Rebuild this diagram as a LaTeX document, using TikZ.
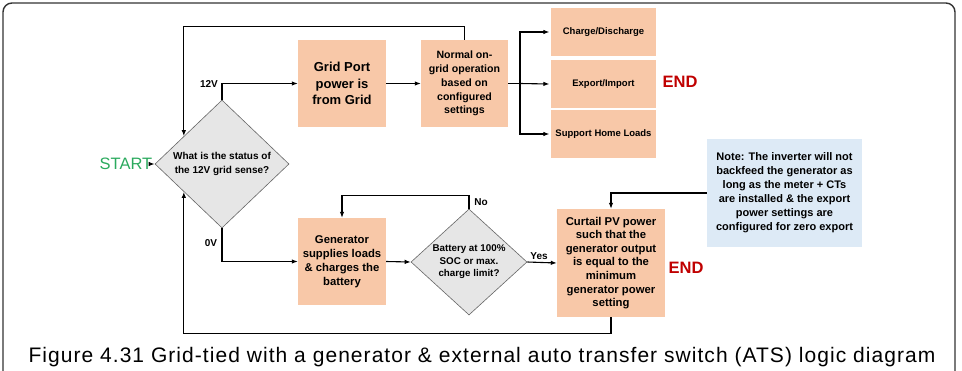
\documentclass[tikz,border=0pt]{standalone}
\usepackage{fontspec}
\setmainfont{Liberation Sans}
\newfontfamily\capfont[LetterSpace=5]{Liberation Sans}
\usetikzlibrary{arrows.meta,shapes.geometric,calc}
\definecolor{peach}{HTML}{F8C8A8}
\definecolor{dgray}{HTML}{E6E6E6}
\definecolor{lblue}{HTML}{DDEAF6}
\definecolor{startgreen}{HTML}{2BAA5E}
\definecolor{endred}{HTML}{C00000}
\tikzset{
  pbox/.style={fill=peach, draw=none, align=center, inner sep=1pt, font=\bfseries},
  stackbox/.style={fill=peach, draw=white, line width=1.2pt, minimum width=107pt, minimum height=50pt, font=\bfseries\fontsize{9.5}{11}\selectfont},
  dshape/.style={diamond, draw=gray!80!black, line width=0.6pt, fill=dgray, inner sep=0pt},
  arr/.style={-{Latex[length=6pt,width=4.5pt]}, line width=1.1pt},
  ln/.style={line width=1.1pt},
  lab/.style={font=\bfseries\fontsize{10}{11}\selectfont, inner sep=0pt},
}
\begin{document}
\begin{tikzpicture}[x=1pt,y=-1pt]
\useasboundingbox (0,0) rectangle (962,370);
\fill[white] (0,0) rectangle (962,370);
\begin{scope}
\clip (0,0) rectangle (962,370);
\draw[line width=1.4pt, draw=black!80, rounded corners=9pt] (3,390) -- (3,3) -- (955,3) -- (955,390);
\end{scope}

% diamonds
\node[dshape, minimum width=134pt, minimum height=128pt] (d1) at (222,164) {};
\node[align=center, font=\bfseries\fontsize{10}{14}\selectfont, inner sep=0pt] (d1t) at (222,164) {What is the status of\\the 12V grid sense?};
\node[dshape, minimum width=116pt, minimum height=106pt] (d2) at (469,262) {};
\node[align=center, font=\bfseries\fontsize{9.8}{12.5}\selectfont, inner sep=0pt] (d2t) at (469,262) {Battery at 100\%\\SOC or max.\\charge limit?};

% boxes
\node[pbox, minimum width=88pt, minimum height=87pt, font=\bfseries\fontsize{13}{16.5}\selectfont] (grid) at (342,83.5) {Grid Port\\power is\\from Grid};
\node[pbox, minimum width=87pt, minimum height=87pt, font=\bfseries\fontsize{10.6}{13.8}\selectfont] (normal) at (464.5,83.5) {Normal on-\\grid operation\\based on\\configured\\settings};
\node[stackbox] (charge) at (603.5,32) {Charge/Discharge};
\node[stackbox] (export) at (603.5,84) {Export/Import};
\node[stackbox] (support) at (603.5,134) {Support Home Loads};
\node[pbox, minimum width=88pt, minimum height=87pt, font=\bfseries\fontsize{11.3}{14}\selectfont] (gen) at (342,261.5) {Generator\\supplies loads\\\& charges the\\battery};
\node[pbox, minimum width=108pt, minimum height=108pt, font=\bfseries\fontsize{11.3}{13.6}\selectfont] (curt) at (611,263) {Curtail PV power\\such that the\\generator output\\is equal to the\\minimum\\generator power\\setting};
\node[fill=lblue, align=center, minimum width=155pt, minimum height=108pt, inner sep=1pt, font=\bfseries\fontsize{11}{14}\selectfont] (note) at (784.5,193) {Note: The inverter will not\\backfeed the generator as\\long as the meter + CTs\\are installed \& the export\\power settings are\\configured for zero export};

% START / END
\node[text=startgreen, font=\fontsize{16.5}{18}\selectfont, inner sep=0pt] (start) at (126,164) {START};
\node[text=endred, font=\bfseries\fontsize{16.5}{18}\selectfont, inner sep=0pt] (end1) at (680,82) {END};
\node[text=endred, font=\bfseries\fontsize{16.5}{18}\selectfont, inner sep=0pt] (end2) at (686,268) {END};

% helper coordinates
\coordinate (d1ul) at ($(d1.west)!0.433!(d1.north)$);
\coordinate (d1ll) at ($(d1.west)!0.433!(d1.south)$);
\coordinate (split) at (520,83.5);

% connectors
\draw[arr] (start.east) -- (d1.west);
\draw[arr] (d1.north) |- (grid.west);
\draw[arr] (grid.east) -- (normal.west);
\draw[ln] (normal.east) -- (split);
\draw[arr] (split) |- (charge.west);
\draw[arr] (split) -- (export.west);
\draw[arr] (split) |- (support.west);
\draw[arr] (normal.north) -- ++(0,-13) -| (d1ul);
\draw[arr] (d1.south) |- (gen.west);
\draw[arr] (gen.east) -- (d2.west);
\draw[arr] (d2.north) -- ++(0,-13) -| (gen.north);
\draw[arr] (d2.east) -- (curt.west);
\draw[arr] (note.west) -| (curt.north);
\draw[arr] (curt.south) -- ++(0,16) -| (d1ll);

% labels
\node[lab] (l12) at (209,84) {12V};
\node[lab] (l0) at (211,243) {0V};
\node[lab] (lno) at (481,202) {No};
\node[lab] (lyes) at (539,256) {Yes};

% caption
\node[font=\capfont\fontsize{21}{24}\selectfont, inner sep=0pt] (cap) at (482,357) {Figure 4.31 Grid-tied with a generator \& external auto transfer switch (ATS) logic diagram};
\end{tikzpicture}
\end{document}
